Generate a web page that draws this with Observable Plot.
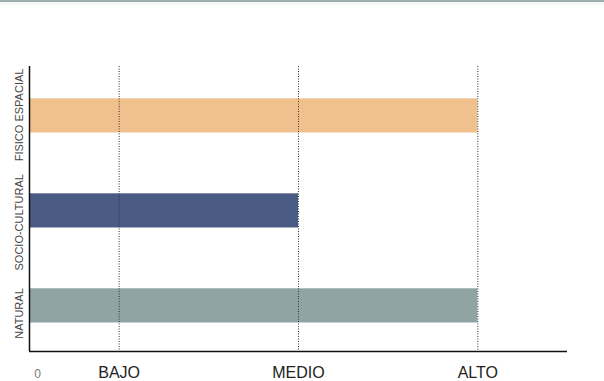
<!DOCTYPE html>
<html>
<head>
<meta charset="utf-8">
<script src="https://cdn.jsdelivr.net/npm/d3@7"></script>
<script src="https://cdn.jsdelivr.net/npm/@observablehq/plot@0.6"></script>
<style>
  html, body { margin: 0; padding: 0; background: #fff; }
  #wrap { position: relative; width: 604px; height: 381px; overflow: hidden; }
  #topline { position: absolute; left: 0; top: 0; width: 604px; height: 2px; background: #9eaeae; }
  #topshade { position: absolute; left: 0; top: 2px; width: 604px; height: 5px; background: linear-gradient(#f3f5f5, #fff); }
</style>
</head>
<body>
<div id="wrap"><div id="chart"></div><div id="topline"></div><div id="topshade"></div></div>
<script>
const categories = ["FISICO ESPACIAL", "SOCIO-CULTURAL", "NATURAL"];
const levels = [3, 2, 3];
const colors = ["#f0c18c", "#4a5c84", "#8fa4a3"];
const tickValues = [1, 2, 3];
const tickLabels = ["BAJO", "MEDIO", "ALTO"];
const zeroLabel = "0";

const bars = categories.map((c, i) => ({cat: c, i, value: levels[i], color: colors[i]}));
const labelOffsets = [0.51, 1.64, 2.6];

const chart = Plot.plot({
  width: 604,
  height: 381,
  marginLeft: 29,
  marginRight: 37,
  marginTop: 66,
  marginBottom: 30,
  style: {fontFamily: "'Liberation Sans', Arial, sans-serif", background: "#fff"},
  x: {domain: [0.5, 3.5], axis: null},
  y: {domain: [0, 3], range: [66, 351], axis: null},
  marks: [
    Plot.rectX(bars, {x1: 0.5, x2: "value", y1: d => d.i + 0.34, y2: d => d.i + 0.70, fill: "color"}),
    Plot.ruleX(tickValues, {stroke: "#333", strokeWidth: 1, strokeDasharray: "1,1.5"}),
    Plot.ruleX([0.5], {stroke: "#111", strokeWidth: 1.5}),
    Plot.ruleY([3], {stroke: "#111", strokeWidth: 1.5}),
    Plot.text(tickValues, {x: d => d, y: 3, text: (d, i) => tickLabels[i], dy: 21, fontSize: 16, fill: "#222", letterSpacing: "-0.6px"}),
    Plot.text([zeroLabel], {x: 0.5, y: 3, text: d => d, dx: 8, dy: 23, fontSize: 12, fill: "#777"}),
    Plot.text(bars, {x: 0.5, y: d => labelOffsets[d.i], text: "cat", dx: -10, rotate: -90, fontSize: 11, fill: "#444", textAnchor: "middle"})
  ]
});
document.getElementById("chart").appendChild(chart);
</script>
</body>
</html>
